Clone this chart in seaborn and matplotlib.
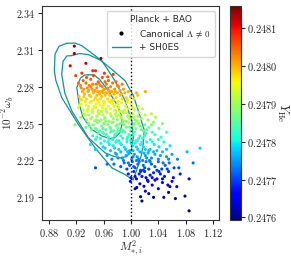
import numpy as np
import pandas as pd
import matplotlib
import matplotlib.pyplot as plt
import seaborn as sns
from matplotlib.lines import Line2D

# ------------------------------------------------------------------
# data
# ------------------------------------------------------------------
# MCMC samples: M^2_{*,i}, 10^-2 omega_b, Y_He   (bands from top to bottom)
pts_x = [
    0.917, 0.917, 0.956, 0.911, 0.934,
    0.944, 0.948, 0.928, 0.919, 0.958, 0.966, 0.967, 0.974, 0.923, 0.935, 0.941, 0.952, 0.930, 0.961, 0.945,
    0.926, 0.931, 0.934, 0.938, 0.941, 0.944, 0.947, 0.950, 0.953, 0.956, 0.958, 0.961, 0.964, 0.967, 0.970,
    0.973, 0.976, 0.980, 0.984, 0.989, 0.936, 0.945, 0.955, 0.962, 0.969, 0.929, 0.996, 1.008, 1.021, 0.978,
    0.924, 0.928, 0.932, 0.935, 0.939, 0.942, 0.945, 0.948, 0.951, 0.954, 0.957, 0.960, 0.963, 0.966, 0.969, 0.972,
    0.975, 0.978, 0.981, 0.984, 0.987, 0.991, 0.995, 0.999, 0.937, 0.950, 0.959, 0.968, 0.980, 1.004, 0.933, 0.946,
    0.923, 0.927, 0.930, 0.934, 0.937, 0.940, 0.943, 0.946, 0.949, 0.952, 0.955, 0.958, 0.961, 0.964, 0.967, 0.970,
    0.973, 0.976, 0.979, 0.982, 0.986, 0.989, 0.992, 0.996, 1.000, 1.005, 1.011, 0.944, 0.957, 0.971, 0.984, 0.938,
    0.926, 0.931, 0.935, 0.938, 0.941, 0.944, 0.947, 0.950, 0.953, 0.956, 0.959, 0.962, 0.965, 0.968, 0.971, 0.974, 0.977,
    0.980, 0.983, 0.986, 0.989, 0.992, 0.995, 0.998, 1.002, 1.006, 1.010, 1.015, 1.021, 0.949, 0.963, 0.978, 0.993, 1.030,
    0.918, 0.934, 0.938, 0.942, 0.945, 0.948, 0.951, 0.954, 0.957, 0.960, 0.963, 0.966, 0.969, 0.972, 0.975, 0.978, 0.981,
    0.984, 0.987, 0.990, 0.993, 0.996, 0.999, 1.003, 1.007, 1.011, 1.015, 1.020, 1.026, 1.033, 1.041, 0.959, 0.974, 0.989, 1.009,
    0.944, 0.948, 0.952, 0.955, 0.958, 0.961, 0.964, 0.967, 0.970, 0.973, 0.976, 0.979, 0.982, 0.985, 0.988, 0.991,
    0.994, 0.997, 1.001, 1.005, 1.009, 1.013, 1.017, 1.022, 1.028, 1.035, 1.044, 1.052, 0.972, 0.999, 1.019,
    0.9405, 0.948, 0.956, 0.962, 0.966, 0.970, 0.974, 0.978, 0.982, 0.986, 0.990, 0.994, 0.998, 1.002,
    1.006, 1.010, 1.014, 1.018, 1.023, 1.028, 1.034, 1.041, 1.048, 1.057, 1.101, 0.980, 1.026,
    0.965, 0.972, 0.977, 0.981, 0.985, 0.989, 0.993, 0.997, 1.001, 1.005, 1.009, 1.013, 1.017,
    1.021, 1.025, 1.030, 1.035, 1.040, 1.046, 1.052, 1.060, 1.082, 1.068, 1.003, 1.027,
    0.948, 0.965, 0.975, 0.985, 0.990, 0.994, 0.998, 1.002, 1.006, 1.010, 1.014, 1.018,
    1.022, 1.026, 1.030, 1.035, 1.040, 1.045, 1.050, 1.056, 1.063, 1.091, 1.070, 1.008,
    0.996, 1.000, 1.004, 1.008, 1.012, 1.016, 1.020, 1.024, 1.028, 1.033, 1.038, 1.043, 1.049, 1.055, 1.062, 1.085, 1.072, 1.018,
    0.999, 1.006, 1.0085, 1.013, 1.019, 1.025, 1.031, 1.040, 1.046, 1.054, 1.057, 1.067, 1.035, 1.060,
    1.014, 1.016, 1.026, 1.033, 1.048, 1.065, 1.079, 1.085, 1.021, 1.055,
    # denser core
    0.927, 0.939, 0.949, 0.959, 0.966, 0.972, 0.982, 0.951, 0.943, 0.987,
    0.926, 0.941, 0.953, 0.962, 0.974, 0.986, 0.993, 1.010, 0.931, 0.965, 0.977, 0.955,
    0.925, 0.936, 0.948, 0.953, 0.963, 0.975, 0.981, 0.994, 1.003, 1.017, 0.960, 0.990,
    0.933, 0.943, 0.952, 0.961, 0.970, 0.979, 0.988, 0.997, 1.004, 1.012, 1.025, 1.036, 0.957, 0.985,
    0.940, 0.950, 0.961, 0.970, 0.980, 0.988, 0.998, 1.005, 1.013, 1.023, 1.030, 1.046, 0.953, 0.983,
    0.950, 0.960, 0.968, 0.977, 0.987, 0.995, 1.003, 1.011, 1.020, 1.031, 1.040, 0.981, 1.007,
    0.959, 0.968, 0.976, 0.984, 0.992, 1.000, 1.008, 1.016, 1.021, 1.031, 1.038, 1.052,
    0.979, 0.987, 0.995, 1.003, 1.011, 1.019, 1.023, 1.033, 1.043, 1.055,
    0.996, 1.004, 1.012, 1.020, 1.028, 1.038, 1.047, 1.053,
    1.006, 1.014, 1.022, 1.031, 1.041, 1.046,
]
pts_y = [
    2.313, 2.307, 2.303, 2.297, 2.299,
    2.293, 2.293, 2.291, 2.289, 2.2875, 2.288, 2.285, 2.290, 2.283, 2.2875, 2.286, 2.284, 2.285, 2.291, 2.289,
    2.281, 2.278, 2.283, 2.277, 2.280, 2.282, 2.277, 2.279, 2.283, 2.276, 2.280, 2.278, 2.282, 2.277, 2.280,
    2.283, 2.278, 2.281, 2.277, 2.278, 2.279, 2.276, 2.281, 2.284, 2.276, 2.276, 2.276, 2.275, 2.276, 2.284,
    2.272, 2.269, 2.274, 2.270, 2.273, 2.268, 2.275, 2.271, 2.269, 2.274, 2.272, 2.268, 2.275, 2.270, 2.273, 2.269,
    2.274, 2.271, 2.268, 2.273, 2.270, 2.275, 2.269, 2.272, 2.276, 2.273, 2.275, 2.268, 2.275, 2.270, 2.268, 2.269,
    2.263, 2.266, 2.261, 2.265, 2.262, 2.267, 2.260, 2.264, 2.266, 2.261, 2.265, 2.263, 2.267, 2.260, 2.264, 2.262,
    2.266, 2.261, 2.265, 2.263, 2.267, 2.260, 2.264, 2.262, 2.266, 2.261, 2.264, 2.262, 2.260, 2.267, 2.260, 2.264,
    2.255, 2.258, 2.253, 2.257, 2.254, 2.259, 2.252, 2.256, 2.258, 2.253, 2.257, 2.255, 2.259, 2.252, 2.256, 2.254, 2.258,
    2.253, 2.257, 2.255, 2.259, 2.252, 2.256, 2.254, 2.258, 2.253, 2.256, 2.254, 2.257, 2.253, 2.252, 2.260, 2.259, 2.258,
    2.249, 2.247, 2.250, 2.245, 2.249, 2.246, 2.251, 2.244, 2.248, 2.250, 2.245, 2.249, 2.247, 2.251, 2.244, 2.248, 2.246,
    2.250, 2.245, 2.249, 2.247, 2.251, 2.244, 2.248, 2.246, 2.250, 2.245, 2.249, 2.247, 2.251, 2.246, 2.246, 2.251, 2.244, 2.252,
    2.240, 2.237, 2.242, 2.238, 2.243, 2.236, 2.241, 2.239, 2.243, 2.237, 2.240, 2.242, 2.236, 2.240, 2.238, 2.243,
    2.237, 2.241, 2.239, 2.243, 2.236, 2.240, 2.238, 2.242, 2.237, 2.241, 2.239, 2.243, 2.244, 2.236, 2.244,
    2.233, 2.229, 2.234, 2.230, 2.235, 2.228, 2.232, 2.235, 2.229, 2.233, 2.231, 2.235, 2.228, 2.232,
    2.234, 2.229, 2.233, 2.231, 2.235, 2.229, 2.233, 2.231, 2.235, 2.232, 2.230, 2.236, 2.228,
    2.224, 2.221, 2.226, 2.222, 2.227, 2.220, 2.224, 2.226, 2.221, 2.225, 2.223, 2.227, 2.220,
    2.224, 2.226, 2.222, 2.225, 2.221, 2.227, 2.223, 2.225, 2.227, 2.221, 2.228, 2.220,
    2.214, 2.217, 2.217, 2.215, 2.218, 2.213, 2.216, 2.219, 2.214, 2.217, 2.212, 2.216,
    2.219, 2.213, 2.217, 2.215, 2.219, 2.213, 2.216, 2.218, 2.214, 2.218, 2.214, 2.220,
    2.209, 2.206, 2.211, 2.205, 2.209, 2.207, 2.211, 2.204, 2.208, 2.210, 2.205, 2.209, 2.207, 2.211, 2.206, 2.205, 2.209, 2.212,
    2.203, 2.197, 2.198, 2.201, 2.199, 2.203, 2.200, 2.197, 2.202, 2.200, 2.1987, 2.1987, 2.204, 2.203,
    2.1905, 2.187, 2.193, 2.190, 2.190, 2.189, 2.191, 2.179, 2.195, 2.194,
    # denser core
    2.279, 2.281, 2.282, 2.277, 2.279, 2.276, 2.280, 2.276, 2.278, 2.282,
    2.270, 2.272, 2.276, 2.273, 2.269, 2.274, 2.271, 2.273, 2.272, 2.275, 2.276, 2.270,
    2.265, 2.260, 2.263, 2.267, 2.262, 2.264, 2.266, 2.267, 2.263, 2.262, 2.265, 2.261,
    2.257, 2.255, 2.259, 2.254, 2.258, 2.256, 2.253, 2.257, 2.255, 2.259, 2.253, 2.255, 2.260, 2.260,
    2.248, 2.245, 2.250, 2.246, 2.249, 2.251, 2.247, 2.250, 2.248, 2.245, 2.249, 2.250, 2.252, 2.244,
    2.239, 2.242, 2.237, 2.241, 2.243, 2.239, 2.241, 2.238, 2.240, 2.243, 2.237, 2.244, 2.236,
    2.231, 2.233, 2.230, 2.234, 2.229, 2.234, 2.231, 2.235, 2.229, 2.235, 2.228, 2.229,
    2.225, 2.222, 2.227, 2.223, 2.221, 2.226, 2.222, 2.227, 2.224, 2.221,
    2.218, 2.215, 2.219, 2.214, 2.219, 2.212, 2.218, 2.213,
    2.207, 2.211, 2.206, 2.206, 2.211, 2.205,
]
pts_yhe = [
    0.248155, 0.248150, 0.248140, 0.248120, 0.248125,
    0.248087, 0.248087, 0.248077, 0.248068, 0.248060, 0.248063, 0.248048, 0.248073, 0.248039, 0.248060, 0.248053, 0.248044, 0.248048, 0.248077, 0.248068,
    0.248029, 0.248015, 0.248039, 0.248010, 0.248024, 0.248034, 0.248010, 0.248019, 0.248039, 0.248005, 0.248024, 0.248015, 0.248034, 0.248010, 0.248024,
    0.248039, 0.248015, 0.248029, 0.248010, 0.248015, 0.248019, 0.248005, 0.248029, 0.248044, 0.248005, 0.248005, 0.248005, 0.248000, 0.248005, 0.248044,
    0.247986, 0.247971, 0.247995, 0.247976, 0.247990, 0.247966, 0.248000, 0.247981, 0.247971, 0.247995, 0.247986, 0.247966, 0.248000, 0.247976, 0.247990, 0.247971,
    0.247995, 0.247981, 0.247966, 0.247990, 0.247976, 0.248000, 0.247971, 0.247986, 0.248005, 0.247990, 0.248000, 0.247966, 0.248000, 0.247976, 0.247966, 0.247971,
    0.247942, 0.247956, 0.247932, 0.247951, 0.247937, 0.247961, 0.247927, 0.247947, 0.247956, 0.247932, 0.247951, 0.247942, 0.247961, 0.247927, 0.247947, 0.247937,
    0.247956, 0.247932, 0.247951, 0.247942, 0.247961, 0.247927, 0.247947, 0.247937, 0.247956, 0.247932, 0.247947, 0.247937, 0.247927, 0.247961, 0.247927, 0.247947,
    0.247903, 0.247918, 0.247893, 0.247913, 0.247898, 0.247922, 0.247889, 0.247908, 0.247918, 0.247893, 0.247913, 0.247903, 0.247922, 0.247889, 0.247908, 0.247898, 0.247918,
    0.247893, 0.247913, 0.247903, 0.247922, 0.247889, 0.247908, 0.247898, 0.247918, 0.247893, 0.247908, 0.247898, 0.247913, 0.247893, 0.247889, 0.247927, 0.247922, 0.247918,
    0.247874, 0.247864, 0.247879, 0.247855, 0.247874, 0.247860, 0.247884, 0.247850, 0.247869, 0.247879, 0.247855, 0.247874, 0.247864, 0.247884, 0.247850, 0.247869, 0.247860,
    0.247879, 0.247855, 0.247874, 0.247864, 0.247884, 0.247850, 0.247869, 0.247860, 0.247879, 0.247855, 0.247874, 0.247864, 0.247884, 0.247860, 0.247860, 0.247884, 0.247850, 0.247889,
    0.247831, 0.247816, 0.247840, 0.247821, 0.247845, 0.247811, 0.247835, 0.247826, 0.247845, 0.247816, 0.247831, 0.247840, 0.247811, 0.247831, 0.247821, 0.247845,
    0.247816, 0.247835, 0.247826, 0.247845, 0.247811, 0.247831, 0.247821, 0.247840, 0.247816, 0.247835, 0.247826, 0.247845, 0.247850, 0.247811, 0.247850,
    0.247797, 0.247777, 0.247802, 0.247782, 0.247806, 0.247773, 0.247792, 0.247806, 0.247777, 0.247797, 0.247787, 0.247806, 0.247773, 0.247792,
    0.247802, 0.247777, 0.247797, 0.247787, 0.247806, 0.247777, 0.247797, 0.247787, 0.247806, 0.247792, 0.247782, 0.247811, 0.247773,
    0.247753, 0.247739, 0.247763, 0.247744, 0.247768, 0.247734, 0.247753, 0.247763, 0.247739, 0.247758, 0.247748, 0.247768, 0.247734,
    0.247753, 0.247763, 0.247744, 0.247758, 0.247739, 0.247768, 0.247748, 0.247758, 0.247768, 0.247739, 0.247773, 0.247734,
    0.247705, 0.247719, 0.247719, 0.247710, 0.247724, 0.247700, 0.247715, 0.247729, 0.247705, 0.247719, 0.247695, 0.247715,
    0.247729, 0.247700, 0.247719, 0.247710, 0.247729, 0.247700, 0.247715, 0.247724, 0.247705, 0.247724, 0.247705, 0.247734,
    0.247680, 0.247666, 0.247690, 0.247661, 0.247680, 0.247671, 0.247690, 0.247656, 0.247676, 0.247685, 0.247661, 0.247680, 0.247671, 0.247690, 0.247666, 0.247661, 0.247680, 0.247695,
    0.247651, 0.247622, 0.247627, 0.247642, 0.247632, 0.247651, 0.247637, 0.247622, 0.247647, 0.247637, 0.247631, 0.247631, 0.247656, 0.247651,
    0.247590, 0.247574, 0.247603, 0.247588, 0.247588, 0.247583, 0.247593, 0.247540, 0.247613, 0.247608,
    # denser core
    0.248019, 0.248029, 0.248034, 0.248010, 0.248019, 0.248005, 0.248024, 0.248005, 0.248015, 0.248034,
    0.247976, 0.247986, 0.248005, 0.247990, 0.247971, 0.247995, 0.247981, 0.247990, 0.247986, 0.248000, 0.248005, 0.247976,
    0.247951, 0.247927, 0.247942, 0.247961, 0.247937, 0.247947, 0.247956, 0.247961, 0.247942, 0.247937, 0.247951, 0.247932,
    0.247913, 0.247903, 0.247922, 0.247898, 0.247918, 0.247908, 0.247893, 0.247913, 0.247903, 0.247922, 0.247893, 0.247903, 0.247927, 0.247927,
    0.247869, 0.247855, 0.247879, 0.247860, 0.247874, 0.247884, 0.247864, 0.247879, 0.247869, 0.247855, 0.247874, 0.247879, 0.247889, 0.247850,
    0.247826, 0.247840, 0.247816, 0.247835, 0.247845, 0.247826, 0.247835, 0.247821, 0.247831, 0.247845, 0.247816, 0.247850, 0.247811,
    0.247787, 0.247797, 0.247782, 0.247802, 0.247777, 0.247802, 0.247787, 0.247806, 0.247777, 0.247806, 0.247773, 0.247777,
    0.247758, 0.247744, 0.247768, 0.247748, 0.247739, 0.247763, 0.247744, 0.247768, 0.247753, 0.247739,
    0.247724, 0.247710, 0.247729, 0.247705, 0.247729, 0.247695, 0.247724, 0.247700,
    0.247671, 0.247690, 0.247666, 0.247666, 0.247690, 0.247661,
]

# SH0ES contours (outer -> inner)
outer_x = [0.9059, 0.9180, 0.9279, 0.9474, 0.9742, 0.9914, 1.0035, 1.0108, 1.0192, 1.0180, 1.0150,
           1.0100, 1.0031, 0.9914, 0.9719, 0.9474, 0.9229, 0.8986, 0.8900, 0.8878, 0.8888, 0.8947]
outer_y = [2.3153, 2.3155, 2.3134, 2.3053, 2.2930, 2.2848, 2.2726, 2.2603, 2.2450, 2.2340, 2.2240,
           2.2150, 2.2041, 2.2085, 2.2140, 2.2303, 2.2493, 2.2712, 2.2850, 2.2930, 2.3066, 2.3129]
middle_x = [0.9133, 0.9250, 0.9376, 0.9572, 0.9767, 0.9914, 1.0012, 1.0035, 1.0000, 0.9930,
            0.9840, 0.9740, 0.9621, 0.9376, 0.9133, 0.9030, 0.8986, 0.9005, 0.9060]
middle_y = [2.3053, 2.3070, 2.3061, 2.3012, 2.2848, 2.2685, 2.2521, 2.2385, 2.2270, 2.2230,
            2.2221, 2.2235, 2.2262, 2.2385, 2.2603, 2.2750, 2.2902, 2.3006, 2.3050]
inner_x = [0.9376, 0.9460, 0.9540, 0.9669, 0.9792, 0.9850, 0.9870, 0.9840, 0.9760, 0.9694,
           0.9570, 0.9426, 0.9300, 0.9240, 0.9206, 0.9260, 0.9320]
inner_y = [2.2897, 2.2895, 2.2860, 2.2766, 2.2657, 2.2580, 2.2500, 2.2426, 2.2385, 2.2377,
           2.2400, 2.2453, 2.2548, 2.2660, 2.2793, 2.2870, 2.2895]

x_ticks = [0.88, 0.92, 0.96, 1.00, 1.04, 1.08, 1.12]
y_ticks = [2.19, 2.22, 2.25, 2.28, 2.31, 2.34]
cbar_ticks = [0.2476, 0.2477, 0.2478, 0.2479, 0.2480, 0.2481]

YHE_MIN, YHE_MAX = 0.247593, 0.248158
TEAL = '#17918f'
JET = matplotlib.colormaps['jet']

df = pd.DataFrame({'m2': pts_x, 'wb': pts_y, 'yhe': pts_yhe})

# ------------------------------------------------------------------
# plot
# ------------------------------------------------------------------
sns.set_style('ticks')
plt.rcParams['mathtext.fontset'] = 'cm'
plt.rcParams['font.family'] = ['DejaVu Sans']
plt.rcParams['axes.edgecolor'] = '0.2'

fig = plt.figure(figsize=(2.91, 2.58), dpi=100)
ax = fig.add_axes([0.145, 0.147, 0.608, 0.829])
cax = fig.add_axes([0.790, 0.147, 0.038, 0.829])

for cx, cy in [(outer_x, outer_y), (middle_x, middle_y), (inner_x, inner_y)]:
    ax.plot(cx + cx[:1], cy + cy[:1], color=TEAL, lw=0.9, zorder=2)

sns.scatterplot(data=df, x='m2', y='wb', hue='yhe', palette=JET,
                hue_norm=(YHE_MIN, YHE_MAX), s=5, linewidth=0,
                legend=False, ax=ax, zorder=3)

ax.axvline(1.0, color='black', ls=':', lw=1.0, zorder=4)

ax.set_xlim(0.870, 1.129)
ax.set_ylim(2.1715, 2.3455)
ax.set_xticks(x_ticks)
ax.set_yticks(y_ticks)
ax.set_xticklabels([f'${v:.2f}$' for v in x_ticks], fontsize=7.5)
ax.set_yticklabels([f'${v:.2f}$' for v in y_ticks], fontsize=7.2)
ax.tick_params(length=3, width=0.8, pad=2)
ax.set_xlabel(r'$M_{*,i}^2$', fontsize=8.5, labelpad=0)
ax.set_ylabel(r'$10^{-2}\omega_b$', fontsize=8)
ax.yaxis.set_label_coords(-0.150, 0.5)

handles = [
    Line2D([], [], marker='.', color='black', ls='', markersize=4),
    Line2D([], [], color=TEAL, lw=1.0),
]
leg = ax.legend(handles, [r'Canonical $\Lambda \,\neq\, 0$', '+ SH0ES'],
                title='Planck + BAO', loc='upper right', fontsize=6.5,
                title_fontsize=6.5, frameon=True, handlelength=2.2,
                borderpad=0.5, labelspacing=0.4)
leg.get_frame().set_edgecolor('0.8')

sm = matplotlib.cm.ScalarMappable(norm=matplotlib.colors.Normalize(YHE_MIN, YHE_MAX), cmap=JET)
cbar = fig.colorbar(sm, cax=cax, ticks=cbar_ticks)
cbar.ax.set_yticklabels([f'${v:.4f}$' for v in cbar_ticks], fontsize=7.5)
cbar.ax.tick_params(length=3, width=0.8, pad=1)
cbar.outline.set_edgecolor('0.2')
cbar.set_label(r'$Y_{\rm He}$', rotation=270, fontsize=9, labelpad=9)

fig.savefig('out.png', dpi=100)
